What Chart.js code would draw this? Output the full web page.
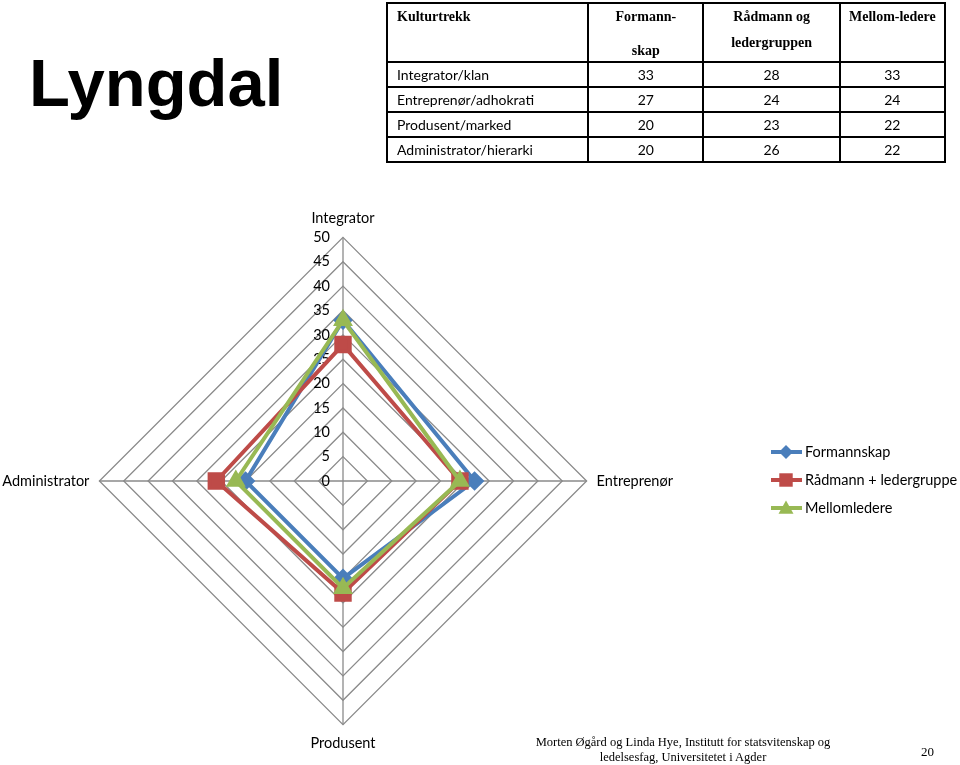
<!DOCTYPE html>
<html>
<head>
<meta charset="utf-8">
<script src="https://cdn.jsdelivr.net/npm/chart.js@4/dist/chart.umd.min.js"></script>
<style>
  body { margin: 0; width: 960px; height: 765px; background: #fff; position: relative; overflow: hidden; }
  #radarChart { position: absolute; left: -7px; top: 0; }
  #title { position: absolute; left: 29px; top: 44px; font: bold 67px "Liberation Sans", Arial, sans-serif; color: #000; }
  #cultureTable { position: absolute; left: 386px; top: 2px; width: 560px; border-collapse: collapse; }
  #cultureTable th, #cultureTable td { border: 2px solid #000; padding: 0; }
  #cultureTable th { height: 57px; vertical-align: top; font: bold 14px "Liberation Serif", "Times New Roman", serif; text-align: center; padding-top: 0; line-height: 26px; }
  #cultureTable th:first-child { text-align: left; padding-left: 9px; }
  #cultureTable td { height: 23px; font: 14px Lato, sans-serif; text-align: center; }
  #cultureTable td:first-child { text-align: left; padding-left: 9px; }
  #cultureTable .gap { display: block; margin-top: 12px; line-height: 18px; }
  #footer { position: absolute; left: 500px; top: 735px; width: 366px; text-align: center; font: 12.5px "Liberation Serif", "Times New Roman", serif; line-height: 15px; }
  #pageNo { position: absolute; left: 921px; top: 744px; font: 13px "Liberation Serif", "Times New Roman", serif; }
</style>
</head>
<body>
<canvas id="radarChart" width="967" height="765"></canvas>
<div id="title">Lyngdal</div>
<table id="cultureTable"></table>
<div id="footer">Morten Øgård og Linda Hye, Institutt for statsvitenskap og<br>ledelsesfag, Universitetet i Agder</div>
<div id="pageNo">20</div>
<script>
const axisLabels = ["Integrator", "Entreprenør", "Produsent", "Administrator"];
const tableRowLabels = ["Integrator/klan", "Entreprenør/adhokrati", "Produsent/marked", "Administrator/hierarki"];
const tableHeaders = ["Kulturtrekk", "Formann-<span class=\"gap\">skap</span>", "Rådmann og<br>ledergruppen", "Mellom-ledere"];
const seriesNames = ["Formannskap", "Rådmann + ledergruppe", "Mellomledere"];
const formannskap = [33, 27, 20, 20];
const raadmann = [28, 24, 23, 26];
const mellomledere = [33, 24, 22, 22];
const scaleMax = 50;
const scaleStep = 5;

// table on top of the slide, built from the same values
const table = document.getElementById("cultureTable");
const colWidths = [191, 114, 135, 104];
let html = "<tr>" + tableHeaders.map((h, i) => `<th style="width:${colWidths[i]}px">${h}</th>`).join("") + "</tr>";
tableRowLabels.forEach((label, i) => {
  html += `<tr><td>${label}</td><td>${formannskap[i]}</td><td>${raadmann[i]}</td><td>${mellomledere[i]}</td></tr>`;
});
table.innerHTML = html;

const colors = ["#4A7EBB", "#BE4B48", "#98B954"];
const pointStyles = ["rectRot", "rect", "triangle"];
const pointSizes = [7, 9.5, 7.5];
const labelFont = "Lato, sans-serif";
const labelSize = 14.5;
const canvasShift = 7; // canvas sits 7px left of the page edge

// simple marker drawing for the legend
function drawMarker(ctx, style, r, x, y) {
  ctx.beginPath();
  if (style === "rectRot") {
    ctx.moveTo(x, y - r);
    ctx.lineTo(x + r, y);
    ctx.lineTo(x, y + r);
    ctx.lineTo(x - r, y);
  } else if (style === "rect") {
    const s = r * Math.SQRT1_2;
    ctx.rect(x - s, y - s, 2 * s, 2 * s);
  } else {
    const h = r * 1.5;
    ctx.moveTo(x, y - r);
    ctx.lineTo(x + r, y + h / 2);
    ctx.lineTo(x - r, y + h / 2);
  }
  ctx.closePath();
  ctx.fill();
}

// tick labels drawn left of the vertical axis
const tickLabelPlugin = {
  id: "tickLabels",
  beforeDatasetsDraw(chart) {
    const scale = chart.scales.r;
    const c = chart.ctx;
    c.save();
    c.font = labelSize + "px " + labelFont;
    c.fillStyle = "#000";
    c.textAlign = "right";
    c.textBaseline = "middle";
    scale.ticks.forEach((t) => {
      const p = scale.getPointPositionForValue(0, t.value);
      c.fillText(String(t.value), scale.xCenter - 13, p.y);
    });
    c.restore();
  },
};

// legend with a line and marker for each series
const lineLegendPlugin = {
  id: "lineLegend",
  afterDraw(chart) {
    const c = chart.ctx;
    c.save();
    chart.data.datasets.forEach((ds, i) => {
      const y = 452 + i * 28;
      const x0 = 771 + canvasShift;
      c.strokeStyle = ds.borderColor;
      c.lineWidth = 4;
      c.beginPath();
      c.moveTo(x0, y);
      c.lineTo(x0 + 31, y);
      c.stroke();
      c.fillStyle = ds.borderColor;
      drawMarker(c, ds.pointStyle, ds.pointRadius, x0 + 15, y);
      c.fillStyle = "#000";
      c.font = labelSize + "px " + labelFont;
      c.textAlign = "left";
      c.textBaseline = "middle";
      c.fillText(ds.label, x0 + 34, y);
    });
    c.restore();
  },
};

const seriesData = [formannskap, raadmann, mellomledere];
const datasets = seriesData.map((values, i) => ({
  label: seriesNames[i],
  data: values,
  borderColor: colors[i],
  backgroundColor: colors[i],
  pointBackgroundColor: colors[i],
  pointBorderColor: colors[i],
  pointStyle: pointStyles[i],
  pointRadius: pointSizes[i],
  borderWidth: 4,
  fill: false,
  order: 3 - i,
}));

const ctx = document.getElementById("radarChart").getContext("2d");
new Chart(ctx, {
  type: "radar",
  data: { labels: axisLabels, datasets: datasets },
  plugins: [tickLabelPlugin, lineLegendPlugin],
  options: {
    responsive: false,
    maintainAspectRatio: false,
    animation: false,
    devicePixelRatio: 1,
    layout: { padding: { top: 210, bottom: 13, left: 0, right: 277 } },
    plugins: {
      legend: { display: false },
      tooltip: { enabled: false },
    },
    elements: { line: { tension: 0 } },
    scales: {
      r: {
        min: 0,
        max: scaleMax,
        beginAtZero: true,
        ticks: { stepSize: scaleStep, display: false },
        grid: { color: "#8a8a8a", lineWidth: 1.3 },
        angleLines: { color: "#8a8a8a", lineWidth: 1.3 },
        pointLabels: {
          color: "#000",
          padding: 10,
          font: { family: labelFont, size: labelSize },
        },
      },
    },
  },
});
</script>
</body>
</html>
